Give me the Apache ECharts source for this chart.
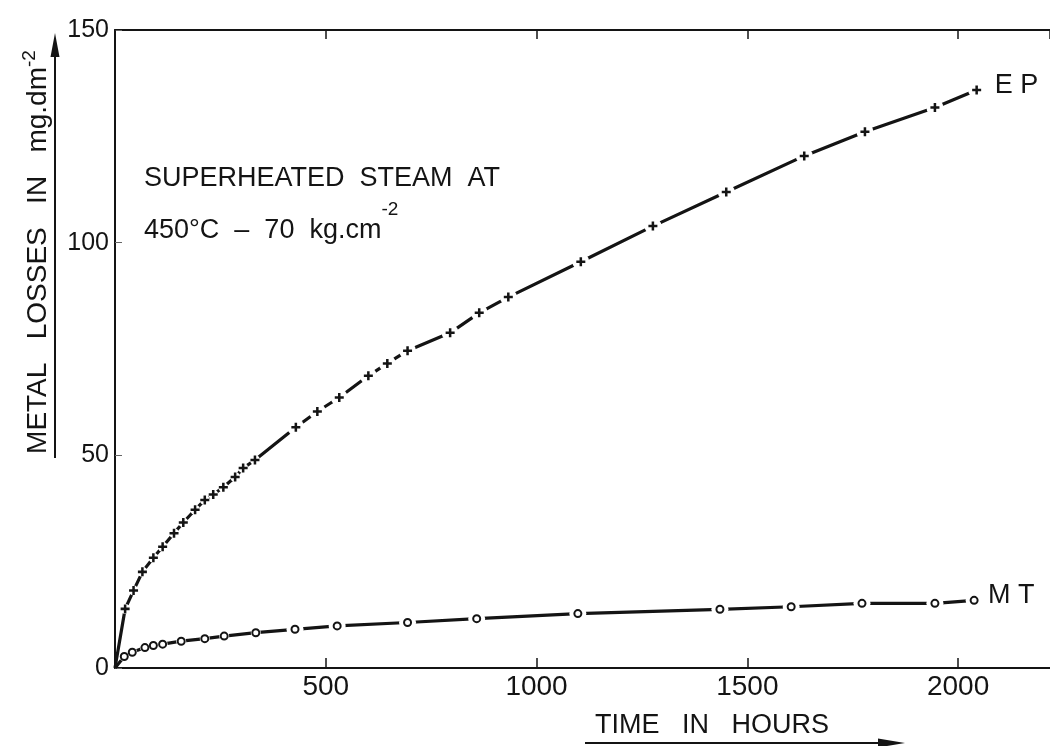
<!DOCTYPE html>
<html>
<head>
<meta charset="utf-8">
<script src="https://cdn.jsdelivr.net/npm/echarts@6/dist/echarts.min.js"></script>
<style>html,body{margin:0;padding:0;background:#fff}#chart{width:1050px;height:746px}</style>
</head>
<body>
<div id="chart"></div>
<script>
// ---- data ----
const xTickValues = [0, 500, 1000, 1500, 2000];
const yTickValues = [0, 50, 100, 150];
const xMax = 2218;

const epHours = [24, 44, 65, 91, 113, 140, 162, 190, 213, 233, 257, 285, 304, 332, 429, 480, 532, 601, 646, 694, 795, 864, 933, 1105, 1276, 1450, 1635, 1779, 1945, 2044];
const epLoss  = [13.9, 18.2, 22.6, 25.9, 28.5, 31.7, 34.2, 37.2, 39.5, 40.8, 42.5, 44.9, 47.0, 48.9, 56.6, 60.3, 63.6, 68.7, 71.6, 74.6, 78.8, 83.5, 87.2, 95.5, 103.9, 111.9, 120.4, 126.1, 131.8, 135.9];

const mtHours = [22, 41, 71, 91, 113, 157, 213, 259, 334, 427, 527, 694, 858, 1098, 1435, 1604, 1772, 1945, 2038];
const mtLoss  = [2.7, 3.7, 4.8, 5.3, 5.6, 6.3, 6.9, 7.5, 8.3, 9.1, 9.9, 10.7, 11.6, 12.8, 13.8, 14.4, 15.2, 15.2, 15.9];

const origin = [[0, 0]];
const epName = 'E P';
const mtName = 'M T';
const note1 = 'SUPERHEATED  STEAM  AT';
const note2 = '450°C  –  70  kg.cm';
const supText = '-2';
const yTitle = 'METAL   LOSSES   IN   mg.dm';
const xTitle = 'TIME   IN   HOURS';

// ---- chart ----
const INK = '#141414';
const FONT = 'Liberation Sans';
const pairs = (xs, ys) => xs.map((x, i) => [x, ys[i]]);
const ep = pairs(epHours, epLoss);
const mt = pairs(mtHours, mtLoss);
const plusPath = 'path://M3.6,0H6.4V3.6H10V6.4H6.4V10H3.6V6.4H0V3.6H3.6Z';
// white gap drawn round each marker: small where markers are close together
const gapSize = (v) => (v[0] < 400 ? 10 : 17);

const chart = echarts.init(document.getElementById('chart'), null, {renderer: 'canvas'});
const axisLine = {show: true, onZero: false, lineStyle: {color: INK, width: 2}};

chart.setOption({
  animation: false,
  backgroundColor: '#ffffff',
  grid: {left: 115, right: 0, top: 30, bottom: 78, containLabel: false},
  xAxis: [{
    type: 'value', min: xTickValues[0], max: xMax, interval: xTickValues[1] - xTickValues[0],
    position: 'bottom',
    axisLine: axisLine,
    axisTick: {show: true, inside: true, length: 10, lineStyle: {color: INK, width: 1.5}},
    axisLabel: {showMinLabel: false, showMaxLabel: false, margin: 5, fontFamily: FONT, fontSize: 28, color: INK, verticalAlign: 'top',
      formatter: v => String(v)},
    splitLine: {show: false}
  }, {
    type: 'value', min: xTickValues[0], max: xMax, interval: xTickValues[1] - xTickValues[0],
    position: 'top',
    axisLine: axisLine,
    axisTick: {show: true, inside: true, length: 9, lineStyle: {color: INK, width: 1.5}},
    axisLabel: {show: false},
    splitLine: {show: false}
  }],
  yAxis: {
    type: 'value', min: yTickValues[0], max: yTickValues[yTickValues.length - 1], interval: yTickValues[1] - yTickValues[0],
    axisLine: axisLine,
    axisTick: {show: true, inside: true, length: 7, lineStyle: {color: '#666', width: 1}},
    axisLabel: {margin: 6, fontFamily: FONT, fontSize: 25, color: INK, padding: [0, 0, 8, 0], formatter: v => String(v)},
    splitLine: {show: false}
  },
  series: [
    {
      name: mtName, type: 'line', data: origin.concat(mt), symbol: 'none', z: 2,
      color: INK, lineStyle: {color: INK, width: 3.2},
      endLabel: {show: true, formatter: mtName, distance: 14, offset: [0, -5], color: INK, fontSize: 27, fontFamily: FONT}
    },
    {type: 'scatter', data: mt, symbol: 'circle', symbolSize: gapSize, itemStyle: {color: '#ffffff', opacity: 1}, z: 3, silent: true},
    {type: 'scatter', data: mt, symbol: 'circle', symbolSize: 7, itemStyle: {color: '#ffffff', borderColor: INK, borderWidth: 2, opacity: 1}, z: 4},
    {
      name: epName, type: 'line', data: origin.concat(ep), symbol: 'none', z: 5,
      color: INK, lineStyle: {color: INK, width: 3.2},
      endLabel: {show: true, formatter: epName, distance: 18, offset: [0, -4], color: INK, fontSize: 27, fontFamily: FONT}
    },
    {type: 'scatter', data: ep, symbol: 'circle', symbolSize: gapSize, itemStyle: {color: '#ffffff', opacity: 1}, z: 6, silent: true},
    {type: 'scatter', data: ep, symbol: plusPath, symbolSize: 9, itemStyle: {color: INK, opacity: 1}, z: 7}
  ],
  graphic: [
    {type: 'text', x: 144, y: 179, style: {text: note1, fontFamily: FONT, fontSize: 27, fill: INK, align: 'left', verticalAlign: 'middle'}},
    {type: 'text', x: 144, y: 222, style: {
      text: '{a|' + note2 + '}{b|' + supText + '}', align: 'left', verticalAlign: 'middle',
      rich: {
        a: {fontFamily: FONT, fontSize: 27, lineHeight: 44, fill: INK, color: INK, verticalAlign: 'bottom'},
        b: {fontFamily: FONT, fontSize: 19, lineHeight: 20, fill: INK, color: INK, verticalAlign: 'top'}
      }
    }},
    {type: 'text', x: 36, y: 252, rotation: Math.PI / 2, style: {
      text: '{a|' + yTitle + '}{b|' + supText + '}', align: 'center', verticalAlign: 'middle',
      rich: {
        a: {fontFamily: FONT, fontSize: 28, lineHeight: 32, fill: INK, color: INK, verticalAlign: 'bottom'},
        b: {fontFamily: FONT, fontSize: 19, lineHeight: 20, fill: INK, color: INK, verticalAlign: 'top'}
      }
    }},
    {type: 'line', shape: {x1: 55, y1: 458, x2: 55, y2: 50}, style: {stroke: INK, lineWidth: 2}},
    {type: 'polygon', shape: {points: [[55, 33], [50.5, 57], [59.5, 57]]}, style: {fill: INK}},
    {type: 'text', x: 595, y: 726, style: {text: xTitle, fontFamily: FONT, fontSize: 27, fill: INK, align: 'left', verticalAlign: 'middle'}},
    {type: 'line', shape: {x1: 585, y1: 743, x2: 885, y2: 743}, style: {stroke: INK, lineWidth: 2}},
    {type: 'polygon', shape: {points: [[905, 743], [878, 738.5], [878, 747.5]]}, style: {fill: INK}}
  ]
});
</script>
</body>
</html>
